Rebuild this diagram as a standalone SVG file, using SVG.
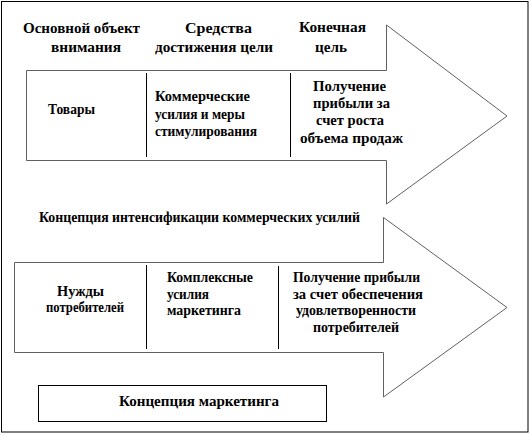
<svg xmlns="http://www.w3.org/2000/svg" width="531" height="435" viewBox="0 0 531 435" font-family="Liberation Serif">
<style>
.t{font-family:'Liberation Serif',serif;font-weight:bold;font-size:15px;fill:#000}
.arrow{fill:#fff;stroke:#606060;stroke-width:1}
.div{stroke:#000;stroke-width:1}
.box{fill:#fff;stroke:#000;stroke-width:1}
</style>
<rect x="1.5" y="1.5" width="526.5" height="430.5" fill="#fff" stroke="#000" stroke-width="1"/>
<g id="header">
<text class="t" x="23" y="33" textLength="117" lengthAdjust="spacingAndGlyphs">Основной объект</text>
<text class="t" x="51" y="52" textLength="70" lengthAdjust="spacingAndGlyphs">внимания</text>
<text class="t" x="185" y="33" textLength="67" lengthAdjust="spacingAndGlyphs">Средства</text>
<text class="t" x="155" y="52" textLength="118" lengthAdjust="spacingAndGlyphs">достижения цели</text>
<text class="t" x="299" y="32" textLength="67" lengthAdjust="spacingAndGlyphs">Конечная</text>
<text class="t" x="315" y="52" textLength="32" lengthAdjust="spacingAndGlyphs">цель</text>
</g>
<g id="arrow1">
<path class="arrow" d="M26.5,70.5 H386.5 V25 L507,116 L386.5,204 V160.5 H26.5 Z"/>
<line class="div" x1="146.5" y1="73" x2="146.5" y2="157"/>
<line class="div" x1="290.5" y1="73" x2="290.5" y2="157"/>
<text class="t" x="48" y="114" textLength="47" lengthAdjust="spacingAndGlyphs">Товары</text>
<text class="t" x="155" y="101" textLength="95" lengthAdjust="spacingAndGlyphs">Коммерческие</text>
<text class="t" x="155" y="118.5" textLength="90" lengthAdjust="spacingAndGlyphs">усилия и меры</text>
<text class="t" x="155" y="136" textLength="102" lengthAdjust="spacingAndGlyphs">стимулирования</text>
<text class="t" x="313" y="91" textLength="73" lengthAdjust="spacingAndGlyphs">Получение</text>
<text class="t" x="313" y="108" textLength="77" lengthAdjust="spacingAndGlyphs">прибыли  за</text>
<text class="t" x="316" y="125" textLength="68" lengthAdjust="spacingAndGlyphs">счет роста</text>
<text class="t" x="300" y="143" textLength="103" lengthAdjust="spacingAndGlyphs">объема продаж</text>
</g>
<g id="title2">
<text class="t" x="39" y="222" textLength="321" lengthAdjust="spacingAndGlyphs">Концепция  интенсификации  коммерческих усилий</text>
</g>
<g id="arrow2">
<path class="arrow" d="M14.5,262.5 H383.5 V217.5 L507,307.5 L383.5,397 V352.5 H14.5 Z"/>
<line class="div" x1="146.5" y1="265" x2="146.5" y2="349"/>
<line class="div" x1="278.5" y1="266" x2="278.5" y2="349"/>
<text class="t" x="57" y="296" textLength="47" lengthAdjust="spacingAndGlyphs">Нужды</text>
<text class="t" x="46" y="312" textLength="78" lengthAdjust="spacingAndGlyphs">потребителей</text>
<text class="t" x="167" y="282" textLength="86" lengthAdjust="spacingAndGlyphs">Комплексные</text>
<text class="t" x="167" y="298.5" textLength="42" lengthAdjust="spacingAndGlyphs">усилия</text>
<text class="t" x="167" y="315" textLength="74" lengthAdjust="spacingAndGlyphs">маркетинга</text>
<text class="t" x="293" y="282" textLength="127" lengthAdjust="spacingAndGlyphs">Получение прибыли</text>
<text class="t" x="293" y="299" textLength="130" lengthAdjust="spacingAndGlyphs">за счет обеспечения</text>
<text class="t" x="296" y="315" textLength="120" lengthAdjust="spacingAndGlyphs">удовлетворенности</text>
<text class="t" x="313" y="332" textLength="86" lengthAdjust="spacingAndGlyphs">потребителей</text>
</g>
<g id="concept-box">
<rect class="box" x="38.5" y="385.5" width="288" height="36"/>
<text class="t" x="119" y="406" textLength="160" lengthAdjust="spacingAndGlyphs">Концепция маркетинга</text>
</g>
</svg>
